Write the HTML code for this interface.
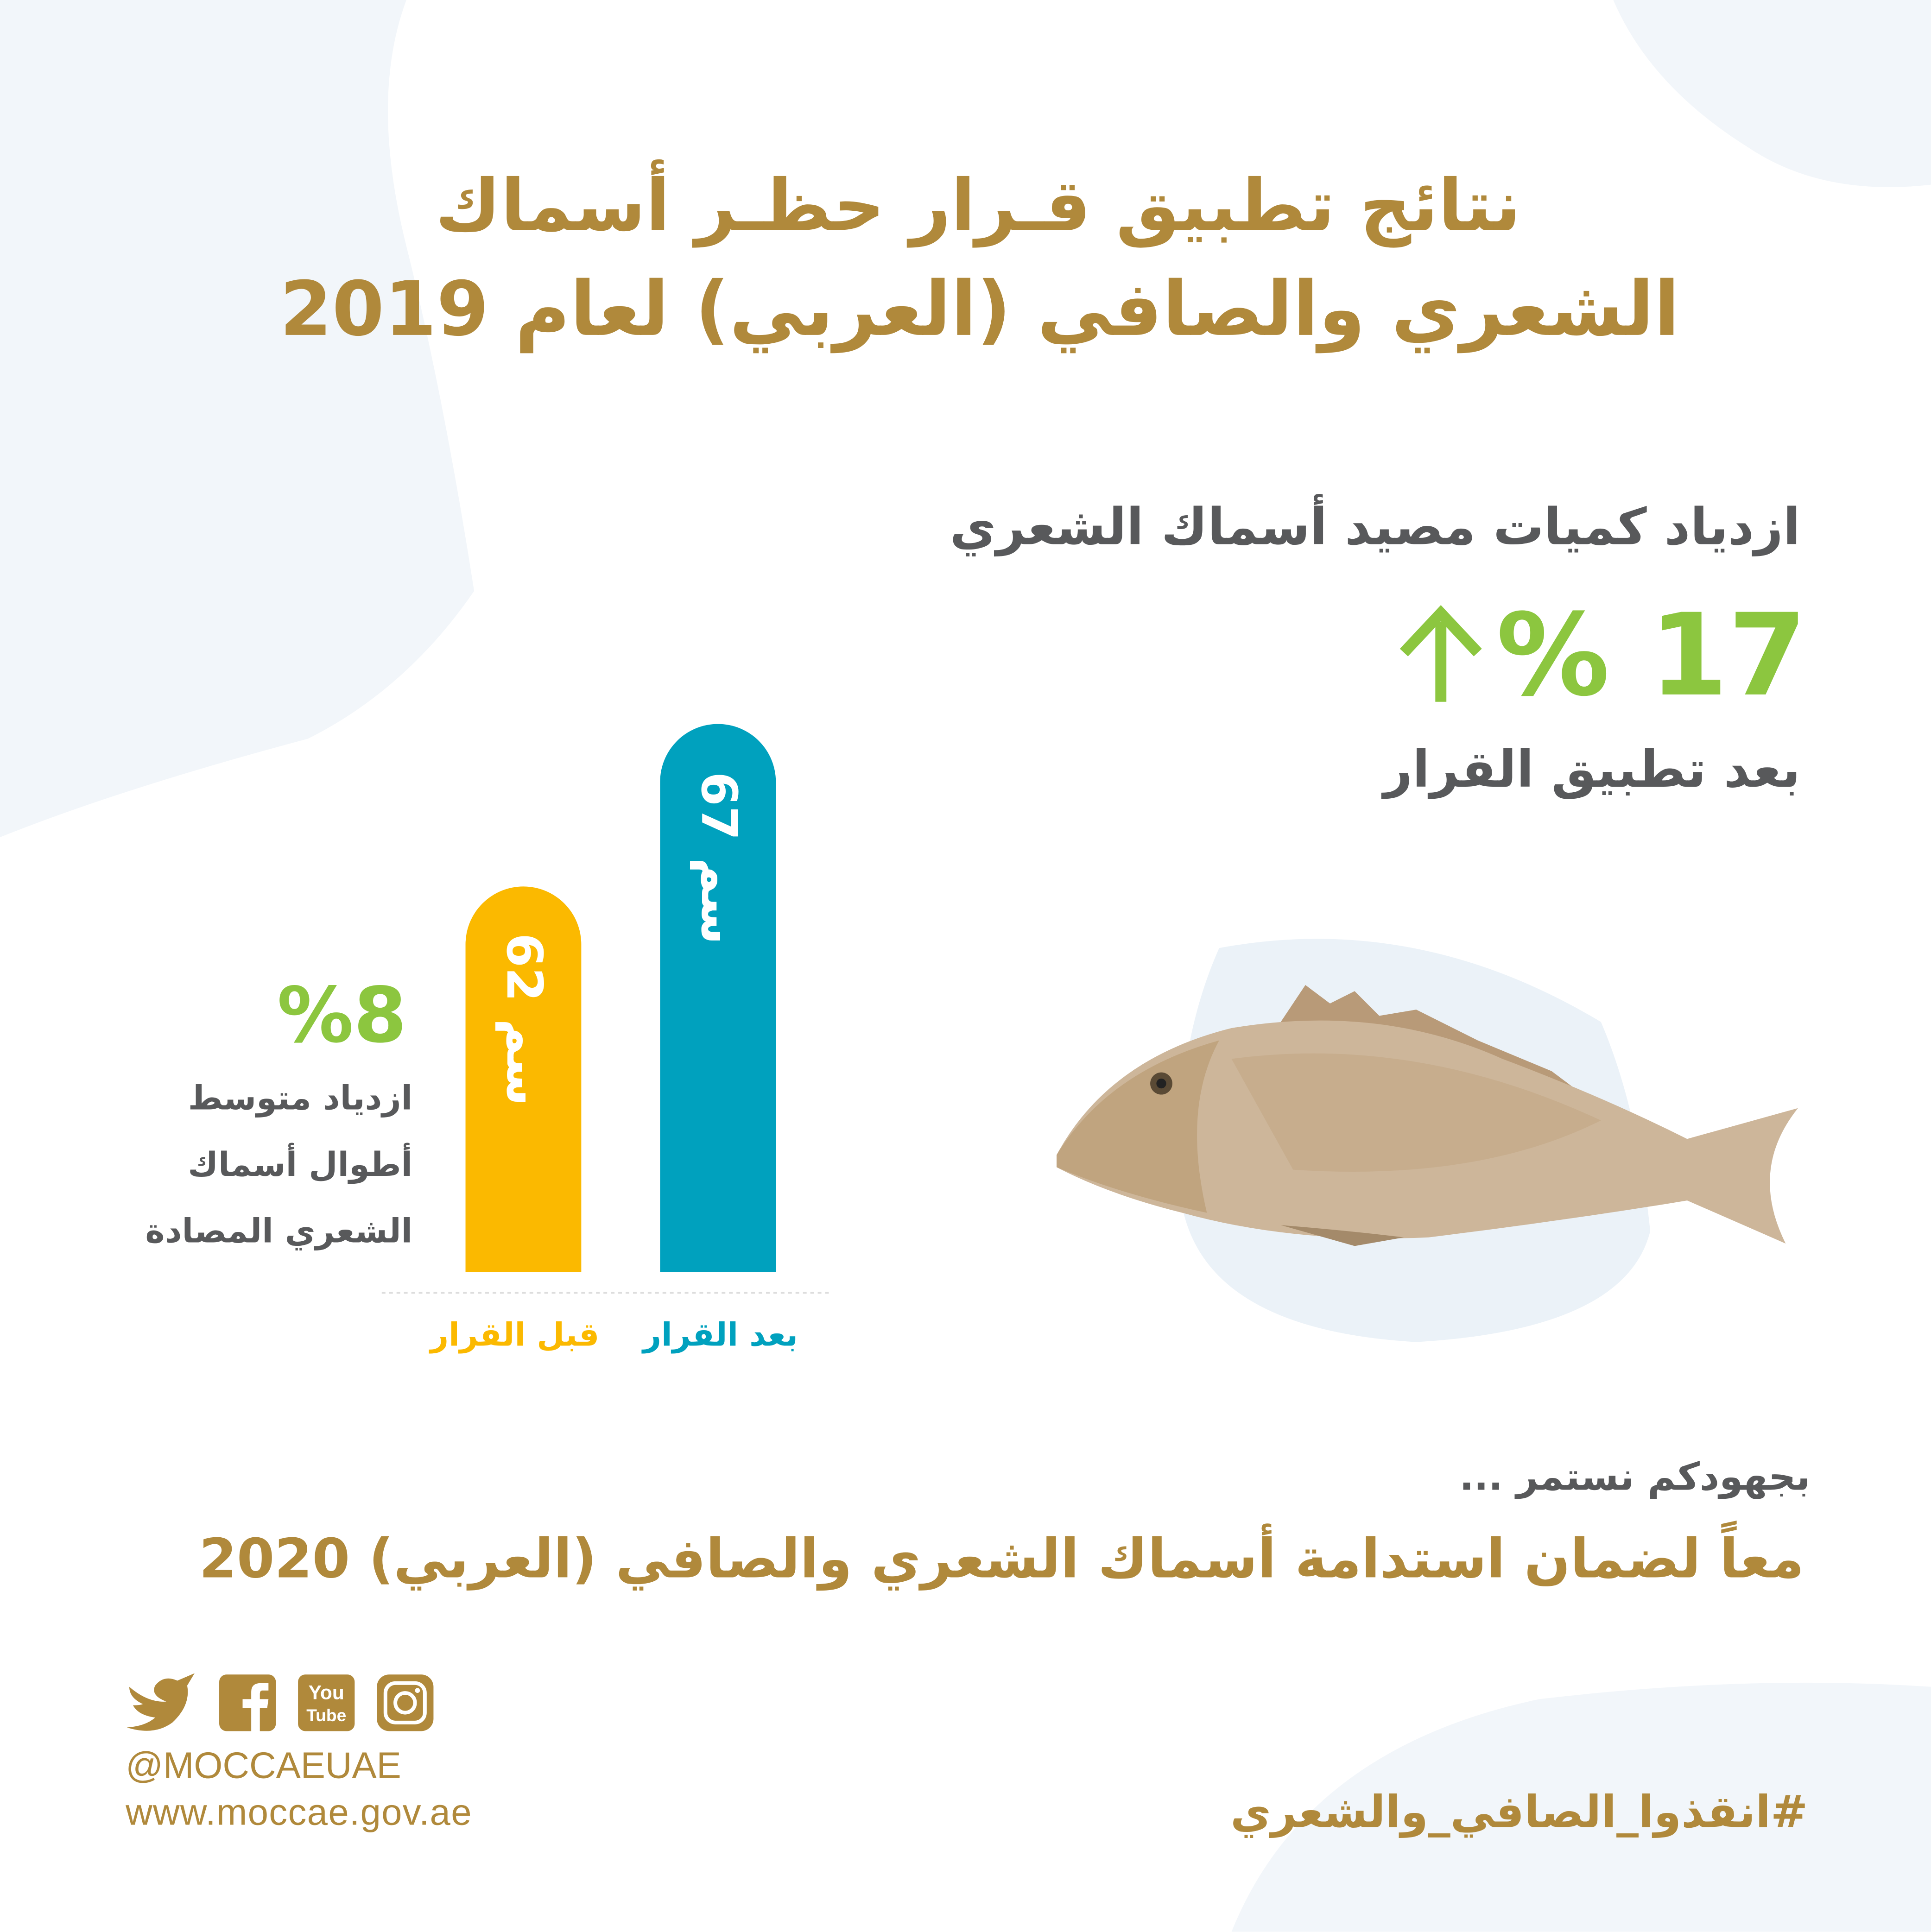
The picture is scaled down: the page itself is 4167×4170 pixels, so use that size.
<!DOCTYPE html>
<html><head><meta charset="utf-8">
<style>
html,body{margin:0;padding:0;}
body{width:4167px;height:4168px;overflow:hidden;background:#fff;position:relative;}
#s{position:absolute;left:0;top:0;width:1568px;height:1569px;transform:scale(2.6575);transform-origin:0 0;font-family:"DejaVu Sans","Liberation Sans",sans-serif;}
.a{position:absolute;white-space:nowrap;direction:rtl;}
.g{color:#b0893b;font-weight:bold;}
.gr{color:#58595b;font-weight:bold;}
</style></head><body>
<div id="s">
<svg style="position:absolute;left:0;top:0" width="1568" height="1569">
<path d="M0 0 L330 0 Q300 80 330 200 Q360 320 385 480 Q330 560 250 600 Q100 640 0 680 Z" fill="#f2f6fa"/>
<path d="M1310 0 L1568 0 L1568 150 Q1480 160 1420 120 Q1340 70 1310 0Z" fill="#f2f6fa"/>
<path d="M1000 1569 Q1060 1420 1250 1380 Q1420 1360 1568 1370 L1568 1569Z" fill="#f2f6fa"/>
<path d="M990 770 Q1150 740 1300 830 Q1330 900 1340 1000 Q1320 1080 1150 1090 Q980 1080 960 980 Q950 860 990 770Z" fill="#ebf2f8"/>
<path d="M378 1033 L378 767 A47 47 0 0 1 472 767 L472 1033Z" fill="#fbb900"/>
<path d="M536 1033 L536 635 A47 47 0 0 1 630 635 L630 1033Z" fill="#00a1be"/>
<line x1="310" y1="1050" x2="676" y2="1050" stroke="#ddd" stroke-width="1.5" stroke-dasharray="3,3"/>
<path d="M1170 570 L1170 505 M1140 530 L1170 498 L1200 530" stroke="#8cc63f" stroke-width="9" fill="none"/>
<g>
<path d="M1040 830 L1060 800 L1080 815 L1100 805 L1120 825 L1150 820 L1200 845 L1260 870 L1300 900 Z" fill="#b89a78"/>
<path d="M858 938 Q900 860 1000 835 Q1120 815 1220 860 Q1300 890 1370 925 L1460 900 Q1420 950 1450 1010 L1370 975 Q1280 990 1160 1005 Q1050 1010 960 985 Q900 970 858 948Z" fill="#cdb69a"/>
<path d="M1000 860 Q1150 840 1300 910 Q1200 960 1050 950 Z" fill="#c4a988" opacity="0.7"/>
<path d="M858 938 Q900 870 990 845 Q960 900 980 985 Q910 970 858 948Z" fill="#c0a47f"/>
<path d="M1040 995 Q1100 1000 1140 1005 L1100 1012 Z" fill="#a48a6a"/>
<circle cx="943" cy="880" r="9" fill="#5a4a35"/><circle cx="943" cy="880" r="4" fill="#222"/>
</g>
</svg>
<div class="a g" style="right:333px;top:122px;font-size:58px;line-height:90px;">نتائج تطبيق قـرار حظـر أسماك</div>
<div class="a g" style="right:204px;top:207px;font-size:61px;line-height:90px;">الشعري والصافي (العربي) لعام 2019</div>
<div class="a gr" style="right:106px;top:388px;font-size:41px;line-height:80px;">ازدياد كميات مصيد أسماك الشعري</div>
<div class="a" style="left:1215px;top:478px;font-size:92px;line-height:110px;color:#8cc63f;font-weight:bold;direction:ltr;">% 17</div>
<div class="a gr" style="right:106px;top:585px;font-size:41px;line-height:80px;">بعد تطبيق القرار</div>
<div class="a" style="left:225px;top:785px;font-size:62px;line-height:80px;color:#8cc63f;font-weight:bold;direction:ltr;">%8</div>
<div class="a gr" style="right:1233px;top:866px;font-size:27px;line-height:54px;text-align:right;">ازدياد متوسط<br>أطوال أسماك<br>الشعري المصادة</div>
<div class="a" style="left:425px;top:828px;transform:translate(-50%,-50%) rotate(90deg);font-size:40px;color:#fff;font-weight:bold;direction:ltr;">62 سم</div>
<div class="a" style="left:583px;top:697px;transform:translate(-50%,-50%) rotate(90deg);font-size:40px;color:#fff;font-weight:bold;direction:ltr;">67 سم</div>
<div class="a" style="left:418px;top:1085px;transform:translate(-50%,-50%);font-size:26px;color:#fbb900;font-weight:bold;">قبل القرار</div>
<div class="a" style="left:585px;top:1085px;transform:translate(-50%,-50%);font-size:26px;color:#00a1be;font-weight:bold;">بعد القرار</div>
<div class="a gr" style="right:98px;top:1175px;font-size:31px;line-height:50px;">بجهودكم نستمر ...</div>
<div class="a g" style="right:103px;top:1232px;font-size:44px;line-height:70px;">معاً لضمان استدامة أسماك الشعري والصافي (العربي) 2020</div>
<div class="a g" style="right:100px;top:1445px;font-size:36px;line-height:55px;">#انقذوا_الصافي_والشعري</div>
<svg style="position:absolute;left:100px;top:1355px" width="260" height="55">
<path d="M5 15 Q20 28 35 27 Q22 22 26 14 Q33 5 44 10 L58 4 L52 14 Q55 30 40 44 Q25 55 3 48 Q18 47 26 40 Q12 38 8 30 Q14 30 16 29 Q5 24 5 15Z" fill="#b0893b"/>
<rect x="78" y="5" width="46" height="46" rx="6" fill="#b0893b"/>
<path d="M104 51 L104 32 L97 32 L97 25 L104 25 L104 19 Q104 12 112 12 L118 12 L118 18 L113 18 Q111 18 111 21 L111 25 L118 25 L117 32 L111 32 L111 51Z" fill="#fff"/>
<rect x="142" y="5" width="46" height="46" rx="6" fill="#b0893b"/>
<text x="165" y="25" font-size="16" font-weight="bold" fill="#fff" text-anchor="middle" font-family="Liberation Sans">You</text>
<text x="165" y="43" font-size="14" font-weight="bold" fill="#fff" text-anchor="middle" font-family="Liberation Sans">Tube</text>
<rect x="206" y="5" width="46" height="46" rx="10" fill="#b0893b"/>
<rect x="213" y="12" width="32" height="32" rx="8" fill="none" stroke="#fff" stroke-width="3"/>
<circle cx="229" cy="28" r="8" fill="none" stroke="#fff" stroke-width="3"/>
<circle cx="239" cy="18" r="2" fill="#fff"/>
</svg>
<div style="position:absolute;left:102px;top:1418px;font-family:'Liberation Sans',sans-serif;font-size:30px;color:#b0893b;">@MOCCAEUAE</div>
<div style="position:absolute;left:102px;top:1456px;font-family:'Liberation Sans',sans-serif;font-size:30px;color:#b0893b;letter-spacing:0.5px;">www.moccae.gov.ae</div>
</div>
</body></html>
